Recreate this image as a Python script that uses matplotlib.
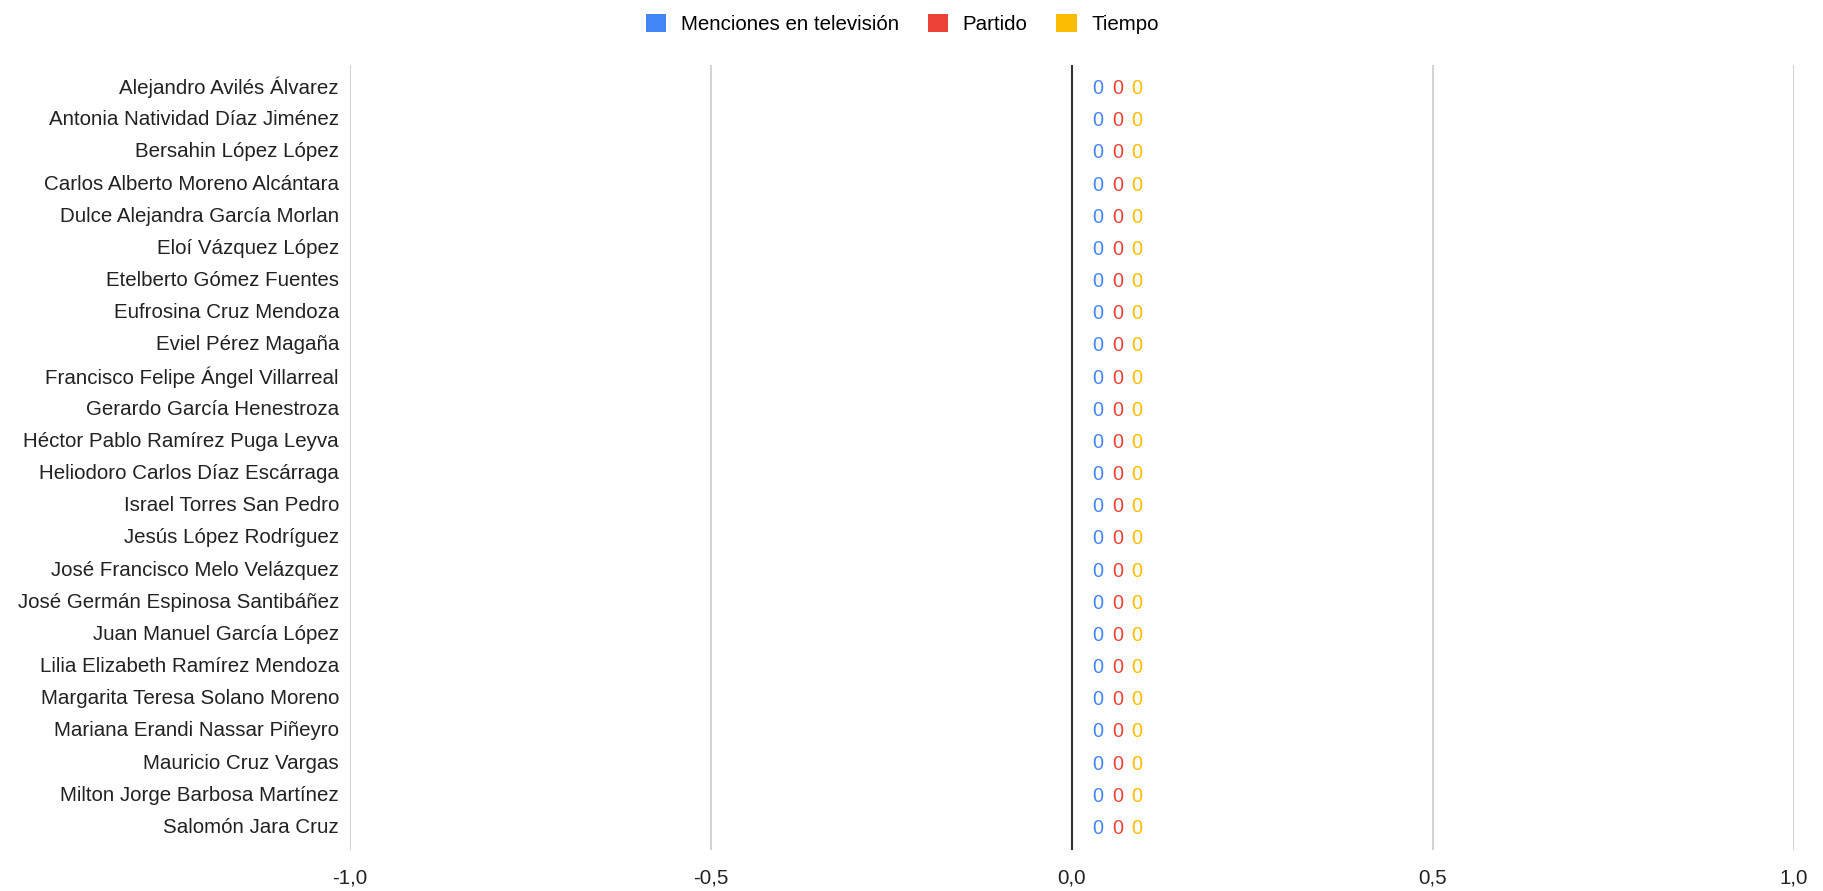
import numpy as np
import matplotlib.pyplot as plt

plt.rcParams['font.family'] = ['Liberation Sans', 'DejaVu Sans']

candidatos = [
    "Alejandro Avilés Álvarez",
    "Antonia Natividad Díaz Jiménez",
    "Bersahin López López",
    "Carlos Alberto Moreno Alcántara",
    "Dulce Alejandra García Morlan",
    "Eloí Vázquez López",
    "Etelberto Gómez Fuentes",
    "Eufrosina Cruz Mendoza",
    "Eviel Pérez Magaña",
    "Francisco Felipe Ángel Villarreal",
    "Gerardo García Henestroza",
    "Héctor Pablo Ramírez Puga Leyva",
    "Heliodoro Carlos Díaz Escárraga",
    "Israel Torres San Pedro",
    "Jesús López Rodríguez",
    "José Francisco Melo Velázquez",
    "José Germán Espinosa Santibáñez",
    "Juan Manuel García López",
    "Lilia Elizabeth Ramírez Mendoza",
    "Margarita Teresa Solano Moreno",
    "Mariana Erandi Nassar Piñeyro",
    "Mauricio Cruz Vargas",
    "Milton Jorge Barbosa Martínez",
    "Salomón Jara Cruz",
]
menciones_tv = [0] * len(candidatos)
partido = [0] * len(candidatos)
tiempo = [0] * len(candidatos)

series = ["Menciones en televisión", "Partido", "Tiempo"]
colores = ["#4285F4", "#EA4335", "#FBBC04"]
ticks_x = [-1.0, -0.5, 0.0, 0.5, 1.0]

fs = 14.8

fig = plt.figure(figsize=(18.23, 8.91), dpi=100)
ax = fig.add_axes([0.192, 0.046, 0.792, 0.881])

y = np.arange(len(candidatos))
h = 0.25
for i, (vals, c, nombre) in enumerate(zip([menciones_tv, partido, tiempo], colores, series)):
    pos = y + (i - 1) * h
    ax.barh(pos, vals, height=h, color=c, label=nombre)
    for yy, v in zip(y, vals):
        ax.annotate(f"{v}", xy=(v, yy), xytext=(26 + 19.5 * i, -1),
                    textcoords="offset pixels", ha="center", va="center",
                    color=c, fontsize=fs - 0.5)

ax.set_xlim(-1.0, 1.0)
ax.set_ylim(len(candidatos) - 0.3, -0.7)
ax.set_yticks(y)
ax.set_yticklabels(candidatos, fontsize=fs, color="#222222", va="center")
ax.set_xticks(ticks_x)
ax.set_xticklabels([f"{t:.1f}".replace(".", ",") for t in ticks_x], fontsize=fs, color="#222222")
ax.tick_params(axis="both", length=0)
ax.tick_params(axis="y", pad=8)
ax.tick_params(axis="x", pad=13)
for s in ax.spines.values():
    s.set_visible(False)
for t in ticks_x:
    if t == 0:
        ax.axvline(t, color="#333333", lw=1.5, zorder=3)
    else:
        ax.axvline(t, color="#cccccc", lw=1.2, zorder=0)

leg = fig.legend(loc="upper center", bbox_to_anchor=(0.495, 1.005), ncol=3, frameon=False,
                 fontsize=fs, handlelength=1.0, handleheight=1.0, handletextpad=0.7,
                 columnspacing=1.4)

fig.savefig("out.png", dpi=100)
